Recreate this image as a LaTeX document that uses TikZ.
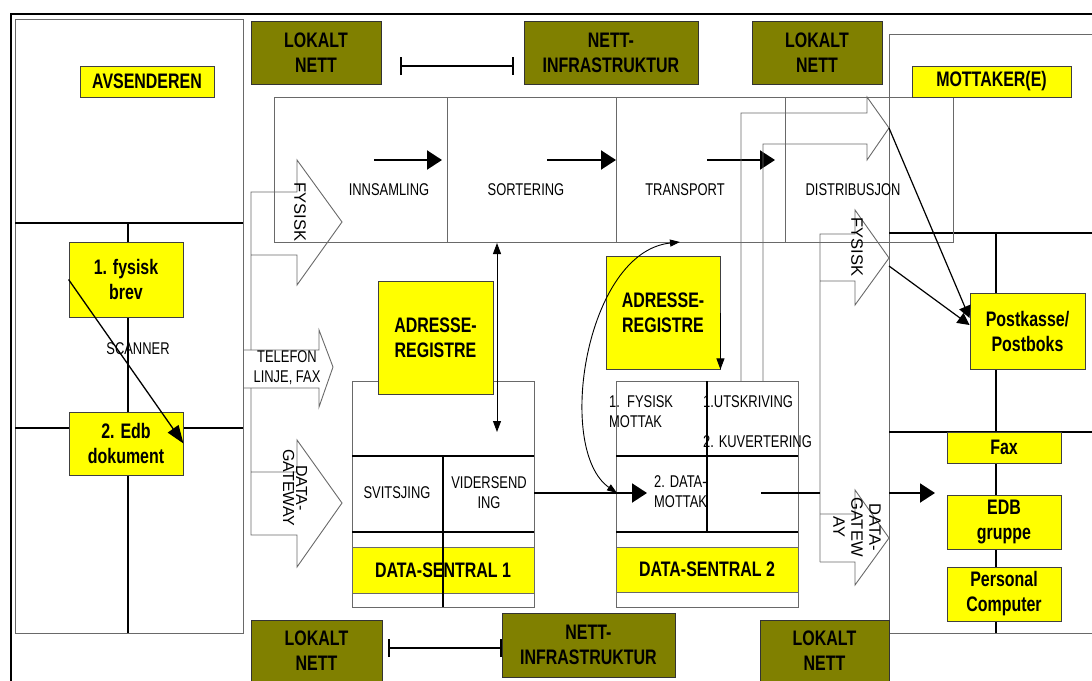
\documentclass[tikz,border=0pt]{standalone}
\usepackage{fontspec}
\setmainfont{Liberation Sans}[FakeStretch=0.76]
\newfontfamily\rotfont{Liberation Sans}
\usetikzlibrary{arrows.meta}

\definecolor{nettgreen}{RGB}{128,128,0}
\definecolor{boxyellow}{RGB}{255,255,0}
\definecolor{linegray}{RGB}{105,105,105}

\tikzset{
  lbl/.style={font=\fontsize{21}{25}\selectfont\bfseries, align=center},
  txt/.style={font=\fontsize{17}{20}\selectfont, align=center, inner sep=0pt},
  rottxt/.style={font=\rotfont\fontsize{16.5}{18}\selectfont, align=center, inner sep=0pt, rotate=-90},
  gulboks/.style={lbl, draw=black!75, fill=boxyellow, inner sep=0pt, line width=0.9pt},
  nettboks/.style={lbl, draw=black!80, fill=nettgreen, inner sep=0pt, line width=0.9pt},
  tynn/.style={draw=linegray, line width=0.9pt},
  tykk/.style={draw=black, line width=2pt},
  pil/.style={line width=2pt, -{Triangle[length=15pt,width=19pt]}},
  smalpil/.style={line width=0.9pt, -{Triangle[length=11pt,width=8pt]}},
}

\begin{document}
\begin{tikzpicture}[x=1pt,y=-1pt]
\clip (0,0) rectangle (1092,680);

% ramme
\draw[line width=2.5pt] (11,700) -- (11,14) -- (1100,14);

% avsender
\draw[tynn] (15,19) rectangle (243,633);
\draw[tykk] (15,223) -- (243,223);
\draw[tykk] (15,428) -- (243,428);
\draw[black, line width=1.2pt] (128,223) -- (128,633);
\node[gulboks, minimum width=134pt, minimum height=31pt] (avs) at (147,81.5) {AVSENDEREN};
\node[gulboks, minimum width=114pt, minimum height=75pt] (brev) at (126,279.5) {1. fysisk\\brev};
\node[gulboks, minimum width=114pt, minimum height=63pt] (edb) at (126,443.5) {2. Edb\\dokument};
\node[txt] (scan) at (138,349) {SCANNER};
\draw[line width=1.3pt, -{Triangle[length=18pt,width=13pt]}] (brev.west) -- (edb.east);

% mottaker
\draw[tynn] (1100,34) -- (889,34) -- (889,633) -- (1100,633);
\draw[black, line width=1.5pt] (889,233) -- (1100,233);
\draw[tykk] (889,432) -- (1100,432);
\draw[black, line width=1.2pt] (996,233) -- (996,633);

% prosessbånd
\draw[tynn] (274,97) rectangle (953,242);
\foreach \x in {447,616,785}
  \draw[tynn] (\x,97) -- (\x,242);
\node[gulboks, minimum width=159pt, minimum height=31pt] (mott) at (991.5,81.5) {MOTTAKER(E)};
\node[txt] (inns) at (389,190) {INNSAMLING};
\node[txt] (sort) at (526,190) {SORTERING};
\node[txt] (trans) at (685,190) {TRANSPORT};
\node[txt] (distr) at (853,190) {DISTRIBUSJON};
\coordinate (inA) at (374,160);
\coordinate (inB) at (442,160);
\coordinate (soA) at (547,160);
\coordinate (soB) at (616,160);
\coordinate (trA) at (707,160);
\coordinate (trB) at (775,160);
\draw[pil] (inA) -- (inB);
\draw[pil] (soA) -- (soB);
\draw[pil] (trA) -- (trB);

% blokkpiler venstre
\draw[tynn] (251,350) -- (251,192) -- (297,192) -- (297,160) -- (342,222) -- (297,285) -- (297,255) -- (251,255);
\draw[tynn] (243,350) -- (319,350) -- (319,330) -- (333,367) -- (319,407) -- (319,388) -- (243,388);
\draw[tynn] (251,388) -- (251,535) -- (297,535) -- (297,567) -- (342,503) -- (297,440) -- (297,472) -- (251,472);
\node[rottxt] (fysV) at (300,212) {FYSISK};
\node[txt] (tlf) at (287,368) {TELEFON\\LINJE, FAX};
\node[rottxt, font=\rotfont\fontsize{16}{13}\selectfont] (dgV) at (295,488) {DATA-\\GATEWAY};

% blokkpiler høyre
\draw[tynn] (741,381) -- (741,113) -- (867,113) -- (867,97) -- (889,128) -- (867,160) -- (867,144) -- (763,144) -- (763,381);
\draw[tynn] (820,562) -- (820,234) -- (855,234) -- (855,210) -- (889,258) -- (855,305) -- (855,281) -- (820,281);
\draw[tynn] (820,514) -- (855,514) -- (855,490) -- (889,538) -- (855,585) -- (855,562) -- (820,562);
\node[rottxt] (fysH) at (857,247) {FYSISK};
\node[rottxt] (dgH) at (857,527) {DATA-\\GATEW\\AY};
\coordinate (tipD) at (889,128);
\coordinate (tipE) at (889,266);

% nett
\node[nettboks, minimum width=130pt, minimum height=63pt] (lnTL) at (316,52.5) {LOKALT\\NETT};
\node[nettboks, minimum width=174pt, minimum height=63pt] (infT) at (611,52.5) {NETT-\\INFRASTRUKTUR};
\node[nettboks, minimum width=130pt, minimum height=63pt] (lnTR) at (817,52.5) {LOKALT\\NETT};
\node[nettboks, minimum width=131pt, minimum height=62pt] (lnBL) at (316.5,651) {LOKALT\\NETT};
\node[nettboks, minimum width=173pt, minimum height=64pt] (infB) at (588.5,645) {NETT-\\INFRASTRUKTUR};
\node[nettboks, minimum width=129pt, minimum height=62pt] (lnBR) at (824.5,651) {LOKALT\\NETT};
\coordinate (barTa) at (400,66);
\coordinate (barTb) at (514,66);
\coordinate (barBa) at (388,648);
\coordinate (barBb) at (502,648);
\draw[line width=1.6pt, {Bar[width=18pt]}-{Bar[width=18pt]}] (barTa) -- (barTb);
\draw[line width=1.6pt, {Bar[width=18pt]}-{Bar[width=18pt]}] (barBa) -- (barBb);

% data-sentral 1
\draw[tynn] (352,381) rectangle (534,607);
\draw[tykk] (352,456) -- (534,456);
\draw[tykk] (352,532) -- (534,532);
\node[gulboks, draw=linegray, minimum width=182pt, minimum height=46pt] (ds1) at (443,570) {DATA-SENTRAL 1};
\draw[black, line width=1.2pt] (443,456) -- (443,607);
\node[txt] (svit) at (397,493) {SVITSJING};
\node[txt] (vid) at (489,493) {VIDERSEND\\ING};
\node[gulboks, minimum width=115pt, minimum height=113pt] (reg1) at (435.5,337.5) {ADRESSE-\\REGISTRE};
\coordinate (r1a) at (497,243);
\coordinate (r1b) at (497,432);
\draw[line width=0.9pt, {Triangle[length=11pt,width=8pt]}-{Triangle[length=11pt,width=8pt]}] (r1a) -- (r1b);

% data-sentral 2
\draw[tynn] (616,381) rectangle (798,607);
\draw[tykk] (616,456) -- (798,456);
\draw[tykk] (616,532) -- (798,532);
\draw[black, line width=1.5pt] (707,381) -- (707,532);
\node[gulboks, draw=linegray, minimum width=182pt, minimum height=45pt] (ds2) at (707,569.5) {DATA-SENTRAL 2};
\node[txt, anchor=west, align=left] (fmot) at (609,412) {1.\ \ FYSISK\\MOTTAK};
\node[txt, anchor=west] (utsk) at (703,402) {1.UTSKRIVING};
\node[txt, anchor=west] (kuv) at (703,442) {2. KUVERTERING};
\node[txt, anchor=west, align=left] (dmot) at (654,492) {2. DATA-\\MOTTAK};
\node[gulboks, minimum width=114pt, minimum height=113pt] (reg2) at (663,312.5) {ADRESSE-\\REGISTRE};
\draw[smalpil] (reg2.east) -- (reg2.south east);
\coordinate (kA) at (680,242);
\coordinate (kB) at (617,493);
\draw[line width=0.9pt, {Triangle[length=10pt,width=7pt]}-{Triangle[length=10pt,width=7pt]}]
  (kA) .. controls (585,252) and (555,450) .. (kB);

% data mellom sentralene
\coordinate (vidUt) at (534,493);
\coordinate (dmInn) at (647,493);
\draw[pil] (vidUt) -- (dmInn);
\coordinate (dsUt) at (761,493);
\coordinate (dgInn) at (820,493);
\coordinate (dgUt) at (889,493);
\coordinate (edbInn) at (935,493);
\draw[line width=2pt] (dsUt) -- (dgInn);
\draw[pil] (dgUt) -- (edbInn);

% mottakerbokser
\node[gulboks, minimum width=115pt, minimum height=76pt] (post) at (1027.5,331) {Postkasse/\\Postboks};
\node[gulboks, minimum width=114pt, minimum height=31pt] (fax) at (1004,447.5) {Fax};
\node[gulboks, minimum width=114pt, minimum height=54pt] (edbg) at (1004,522) {EDB\\gruppe};
\node[gulboks, minimum width=114pt, minimum height=54pt] (pc) at (1004,594) {Personal\\Computer};
\draw[line width=1.2pt, -{Triangle[length=12pt,width=12pt]}] (tipD) -- ([yshift=13pt]post.west);
\draw[line width=1.2pt, -{Triangle[length=12pt,width=12pt]}] (tipE) -- ([yshift=6pt]post.west);
\end{tikzpicture}
\end{document}
